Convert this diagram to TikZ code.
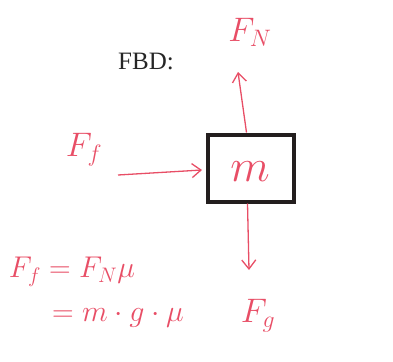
\RequirePackage{fix-cm}
\documentclass[tikz,border=0pt]{standalone}
\usepackage{fontspec}
\newfontfamily\printfont{Liberation Serif}
\usetikzlibrary{arrows.meta}
\definecolor{pen}{RGB}{232,78,102}
\definecolor{boxc}{RGB}{35,30,30}
\begin{document}
\begin{tikzpicture}[x=1pt,y=-1pt,
  hand/.style={text=pen, inner sep=0pt},
  force/.style={draw=pen, line width=1.3pt, -{Straight Barb[length=9pt,width=14pt]}},
  mass/.style={draw=boxc, line width=4pt, minimum width=86pt, minimum height=67pt, inner sep=0pt}]
\useasboundingbox (0,0) rectangle (393,361);
\node[inner sep=0pt, text=black!85, font=\printfont\fontsize{25}{25}\selectfont] (fbd) at (146,61) {FBD:};
\node[mass] (box) at (250.5,168) {};
\node[hand, font=\fontsize{46}{46}\selectfont] (m) at (250,172) {$m$};
\coordinate (up) at (238,72);
\coordinate (dn) at (249,270);
\coordinate (ls) at (118,175);
\coordinate (le) at (202,170);
\draw[force] (box.north) ++(-4,0) coordinate (bt) -- (up);
\draw[force] (box.south) ++(-3,0) coordinate (bb) -- (dn);
\draw[force] (ls) -- (le);
\node[hand, font=\fontsize{34}{34}\selectfont] (fn) at (250,32) {$F_N$};
\node[hand, font=\fontsize{34}{34}\selectfont] (ff) at (84,150) {$F_f$};
\node[hand, font=\fontsize{34}{34}\selectfont] (fg) at (258,316) {$F_g$};
\node[hand, font=\fontsize{30}{30}\selectfont] (eq1) at (72,272) {$F_f=F_N\mu$};
\node[hand, font=\fontsize{30}{30}\selectfont] (eq2) at (118,318) {$=m\cdot g\cdot\mu$};
\end{tikzpicture}
\end{document}
